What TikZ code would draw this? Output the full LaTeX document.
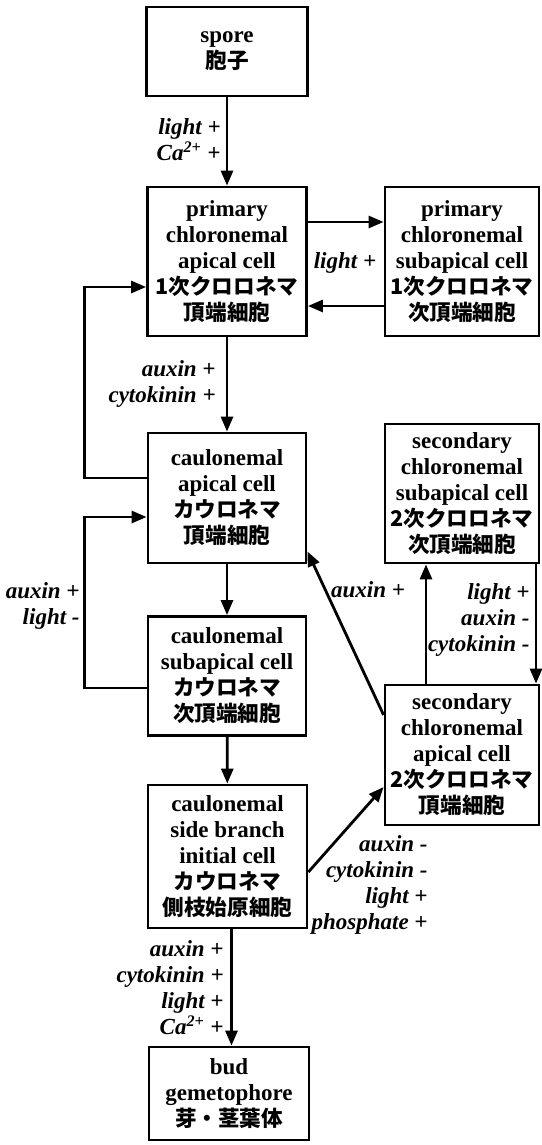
\documentclass[tikz,border=0pt]{standalone}
\usepackage{fontspec}
\setmainfont{Liberation Serif}
\newfontfamily\jp{Noto Sans CJK JP}
\newcommand{\jtext}[1]{{\jp\fontsize{10.8}{13}\selectfont #1}}
\usetikzlibrary{positioning, calc, arrows.meta}

\begin{document}
\begin{tikzpicture}[x=0.5pt, y=0.5pt, >={Triangle[length=7.5pt,width=6pt]},
    cell/.style={draw, line width=1.4pt, align=center, inner sep=1pt,
      font=\fontsize{11.5}{13}\selectfont\bfseries},
    lab/.style={align=right, inner sep=0pt,
      font=\fontsize{11.5}{13}\selectfont\bfseries\itshape},
    link/.style={->, line width=1.4pt}]
    \useasboundingbox (0,0) rectangle (541,-1145);

    % Cells
    \node[cell, minimum width=80.5pt, minimum height=44.5pt] (spore) at (227,-51.5)
      {spore\\\jtext{胞子}};
    \node[cell, minimum width=79.5pt, minimum height=74.5pt] (PA) at (227,-261.5)
      {primary\\chloronemal\\apical cell\\\jtext{1次クロロネマ}\\\jtext{頂端細胞}};
    \node[cell, minimum width=77pt, minimum height=74.5pt] (PS) at (462,-261.5)
      {primary\\chloronemal\\subapical cell\\\jtext{1次クロロネマ}\\\jtext{次頂端細胞}};
    \node[cell, minimum width=79pt, minimum height=65pt] (CA) at (227,-498)
      {caulonemal\\apical cell\\\jtext{カウロネマ}\\\jtext{頂端細胞}};
    \node[cell, minimum width=77pt, minimum height=69.5pt] (SS) at (462,-493.5)
      {secondary\\chloronemal\\subapical cell\\\jtext{2次クロロネマ}\\\jtext{次頂端細胞}};
    \node[cell, minimum width=79pt, minimum height=59.5pt] (CS) at (227,-676)
      {caulonemal\\subapical cell\\\jtext{カウロネマ}\\\jtext{次頂端細胞}};
    \node[cell, minimum width=77pt, minimum height=70pt] (SA) at (462,-755)
      {secondary\\chloronemal\\apical cell\\\jtext{2次クロロネマ}\\\jtext{頂端細胞}};
    \node[cell, minimum width=79.5pt, minimum height=71.5pt] (SB) at (227.5,-856.5)
      {caulonemal\\side branch\\initial cell\\\jtext{カウロネマ}\\\jtext{側枝始原細胞}};
    \node[cell, minimum width=80pt, minimum height=46.5pt] (bud) at (229,-1093.5)
      {bud\\gemetophore\\\jtext{芽・茎葉体}};

    % Main line
    \draw[link] (spore) -- (PA);
    \draw[link] (PA) -- (CA);
    \draw[link] (CA) -- (CS);
    \draw[link] (CS) -- (SB);
    \draw[link] ($(SB.south)+(4,0)$) -- ($(bud.north)+(2.5,0)$);
    \node[lab, anchor=east] (l1) at (221,-140) {light +\\Ca\textsuperscript{2+} +};
    \node[lab, anchor=east] (l2) at (216,-384) {auxin +\\cytokinin +};
    \node[lab, anchor=east] (l3) at (224,-988)
      {auxin +\\cytokinin +\\light +\\Ca\textsuperscript{2+} +};

    % Primary chloronema
    \draw[link] ($(PA.east)+(0,39.5)$) -- ($(PS.west)+(0,39.5)$);
    \draw[link] ($(PS.west)+(0,-44.5)$) -- ($(PA.east)+(0,-44.5)$);
    \node[lab, align=center] (l4) at (345,-263) {light +};

    % Loops on the left
    \draw[link] ($(CA.west)+(0,20)$) -- ++(-62,0) |- ($(PA.west)+(0,-25.5)$);
    \draw[link] ($(CS.west)+(0,-12)$) -- ++(-62,0) |- ($(CA.west)+(0,-19)$);
    \node[lab, anchor=east] (l5) at (80,-606) {auxin +\\light -};

    % Secondary chloronema
    \draw[link] ($(SB.east)+(0,-15.5)$) -- ($(SA.west)+(0,-32)$);
    \node[lab, anchor=east] (l6) at (428,-885)
      {auxin -\\cytokinin -\\light +\\phosphate +};
    \draw[link] ($(SA.west)+(0,40)$) -- ($(CA.south east)+(0,13)$);
    \node[lab, align=center] (l7) at (368,-590) {auxin +};
    \draw[link] ($(SA.north)+(-36,0)$) -- ($(SS.south)+(-36,0)$);
    \draw[link] ($(SS.south)+(74,0)$) -- ($(SA.north)+(74,0)$);
    \node[lab, anchor=east] (l8) at (530,-620) {light +\\auxin -\\cytokinin -};
\end{tikzpicture}
\end{document}
